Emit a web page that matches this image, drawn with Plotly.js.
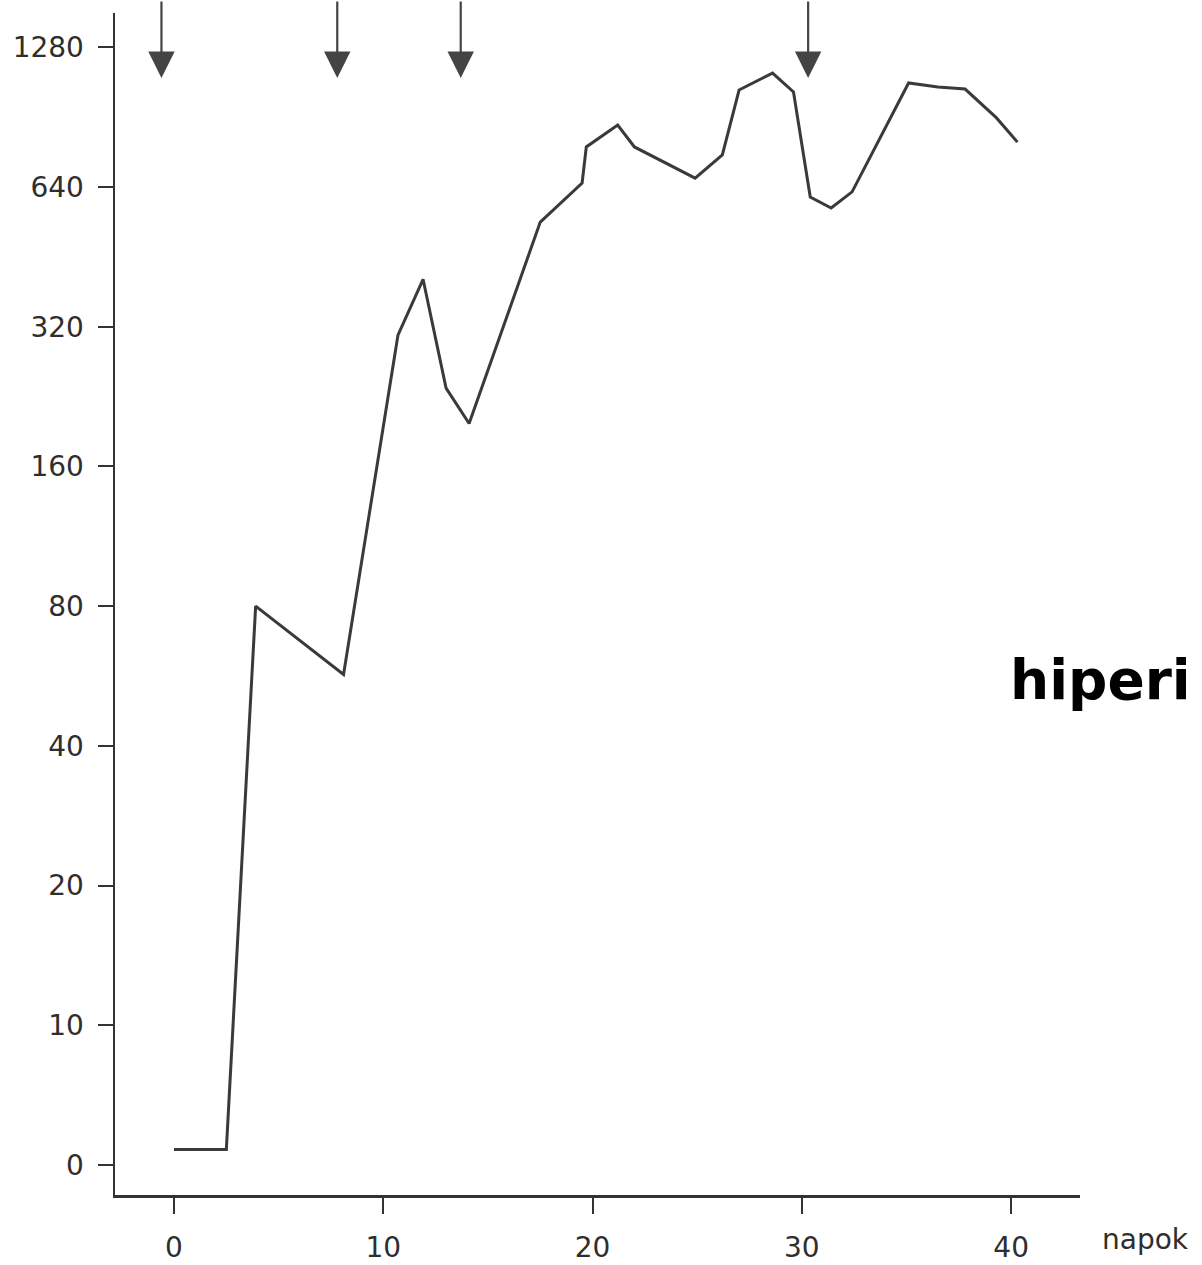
<!DOCTYPE html>
<html>
<head>
<meta charset="utf-8">
<script src="https://cdn.plot.ly/plotly-3.0.1.min.js"></script>
<style>
  html, body { margin: 0; padding: 0; background: #ffffff; }
  #chart { width: 1202px; height: 1265px; }
</style>
</head>
<body>
<div id="chart"></div>
<script>
// Days after first immunization
var days = [0, 2.5, 3.9, 8.1, 10.7, 11.9, 13.0, 14.1, 17.5, 19.5, 19.7, 21.2, 22.0, 24.9, 26.2, 27.0, 28.6, 29.6, 30.4, 31.4, 32.4, 35.1, 36.5, 37.8, 39.3, 40.3];
// Antibody titer (log2 scale; "0" is drawn at the 5 position)
var titer = [5.4, 5.4, 80, 57, 307, 405, 236, 198, 538, 653, 781, 871, 781, 669, 751, 1036, 1127, 1026, 609, 577, 625, 1073, 1052, 1041, 902, 800];
// Injection days (arrows)
var injectionDays = [-0.6, 7.8, 13.7, 30.3];
// Axis ticks
var yTickVals = [5, 10, 20, 40, 80, 160, 320, 640, 1280];
var yTickText = ["0", "10", "20", "40", "80", "160", "320", "640", "1280"];
var xTickVals = [0, 10, 20, 30, 40];
var xTickText = ["0", "10", "20", "30", "40"];
var xLabel = "napok";
var sideLabel = "hiperi";

var axisColor = "#333333";
var tickFont = {family: "DejaVu Sans", size: 28, color: "#2e2e2e"};

var trace = {
  x: days,
  y: titer,
  type: "scatter",
  mode: "lines",
  line: {color: "#3a3a3a", width: 3},
  hoverinfo: "skip"
};

var annotations = injectionDays.map(function (d) {
  return {
    x: d, xref: "x",
    y: 0.945, yref: "paper",
    ax: 0, ay: -80, axref: "pixel", ayref: "pixel",
    text: "",
    showarrow: true,
    arrowhead: 2,
    arrowwidth: 2.2,
    arrowsize: 2.4,
    arrowcolor: "#444444"
  };
});

annotations.push({
  x: 1.068, xref: "paper",
  y: -0.038, yref: "paper",
  xanchor: "center", yanchor: "middle",
  text: xLabel,
  showarrow: false,
  font: {family: "DejaVu Sans", size: 28, color: "#2e2e2e"}
});

annotations.push({
  x: 0.925, xref: "paper",
  y: 0.436, yref: "paper",
  xanchor: "left", yanchor: "middle",
  text: "<b>" + sideLabel + "</b>",
  showarrow: false,
  font: {family: "DejaVu Sans", size: 55, color: "#000000"}
});

var layout = {
  width: 1202,
  height: 1265,
  margin: {l: 115, r: 122, t: 13, b: 70, pad: 0},
  paper_bgcolor: "#ffffff",
  plot_bgcolor: "#ffffff",
  showlegend: false,
  hovermode: false,
  xaxis: {
    range: [-2.82, 43.29],
    tickmode: "array",
    tickvals: xTickVals,
    ticktext: xTickText,
    showgrid: false,
    zeroline: false,
    showline: true,
    linecolor: axisColor,
    linewidth: 2.5,
    ticks: "outside",
    ticklen: 16,
    tickwidth: 2,
    tickcolor: axisColor,
    ticklabelstandoff: 10,
    tickfont: tickFont
  },
  yaxis: {
    type: "log",
    range: [0.6343, 3.1813],
    tickmode: "array",
    tickvals: yTickVals,
    ticktext: yTickText,
    showgrid: false,
    zeroline: false,
    showline: true,
    linecolor: axisColor,
    linewidth: 2.5,
    ticks: "outside",
    ticklen: 15,
    tickwidth: 2,
    tickcolor: axisColor,
    ticklabelstandoff: 8,
    tickfont: tickFont
  },
  annotations: annotations
};

Plotly.newPlot("chart", [trace], layout, {staticPlot: true, displayModeBar: false});
</script>
</body>
</html>
